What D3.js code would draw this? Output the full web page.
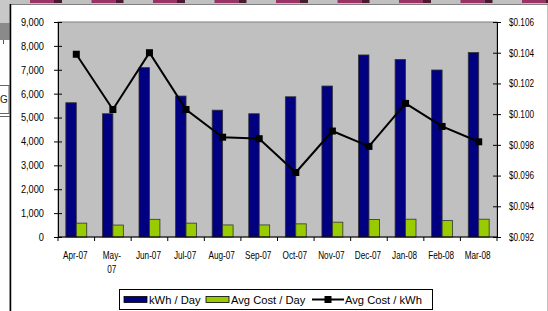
<!DOCTYPE html>
<html>
<head>
<meta charset="utf-8">
<script src="https://cdn.jsdelivr.net/npm/d3@7"></script>
<style>
  body { margin: 0; background: #fff; }
  svg { display: block; font-family: Arial, "Liberation Sans", sans-serif; }
</style>
</head>
<body>
<div id="chart"></div>
<script>
var months = ["Apr-07", "May-07", "Jun-07", "Jul-07", "Aug-07", "Sep-07", "Oct-07", "Nov-07", "Dec-07", "Jan-08", "Feb-08", "Mar-08"];
var kwhPerDay = [5620, 5160, 7090, 5900, 5310, 5160, 5870, 6320, 7620, 7430, 6990, 7720];
var costPerDay = [580, 500, 740, 580, 505, 505, 550, 620, 735, 745, 690, 745];
var costPerKwh = [0.1039, 0.1003, 0.1040, 0.1003, 0.0985, 0.0984, 0.0962, 0.0989, 0.0979, 0.1007, 0.0992, 0.0982];
var leftTicks = [0, 1000, 2000, 3000, 4000, 5000, 6000, 7000, 8000, 9000];
var rightTicks = [0.092, 0.094, 0.096, 0.098, 0.100, 0.102, 0.104, 0.106];
var seriesNames = ["kWh / Day", "Avg Cost / Day", "Avg Cost / kWh"];

var W = 548, H = 311;
var svg = d3.select("#chart").append("svg").attr("width", W).attr("height", H);

// screenshot leftovers around the chart object
svg.append("rect").attr("x", 0).attr("y", 0).attr("width", W).attr("height", 5).attr("fill", "#c0c0c0");
d3.range(0, 9).forEach(function(k) {
  var x0 = 30 + k * 61.5;
  svg.append("rect").attr("x", x0).attr("y", 0).attr("width", 24).attr("height", 3).attr("fill", "#993366");
  svg.append("rect").attr("x", x0 + 24).attr("y", 0).attr("width", 8).attr("height", 3).attr("fill", "#4a1a30");
});
svg.append("rect").attr("x", 0).attr("y", 0).attr("width", 10).attr("height", 23).attr("fill", "#c8c8c8");
svg.append("rect").attr("x", 0).attr("y", 23).attr("width", 10).attr("height", 17).attr("fill", "#8a8a8a");
svg.append("line").attr("x1", 3.5).attr("x2", 3.5).attr("y1", 40).attr("y2", 44).attr("stroke", "#555");
svg.append("rect").attr("x", -2).attr("y", 85.5).attr("width", 11).attr("height", 28).attr("fill", "#fff").attr("stroke", "#666");
svg.append("text").attr("x", 0).attr("y", 103).attr("font-size", 10).attr("fill", "#222").text("G");
svg.append("line").attr("x1", 0).attr("x2", 10).attr("y1", 116.5).attr("y2", 116.5).attr("stroke", "#666");

// chart object
svg.append("rect").attr("x", 10).attr("y", 4.5).attr("width", W - 10).attr("height", H - 4)
  .attr("fill", "#fff").attr("stroke", "#808080");
svg.append("line").attr("x1", 10.5).attr("x2", 10.5).attr("y1", 4).attr("y2", H).attr("stroke", "#000").attr("stroke-width", 1.5);

var plot = { left: 58, right: 497, top: 22, bottom: 237 };

var x = d3.scaleBand().domain(months).range([plot.left, plot.right]).paddingInner(0).paddingOuter(0);
var bw = x.bandwidth() / 3.5;
var yL = d3.scaleLinear().domain([0, 9000]).range([plot.bottom, plot.top]);
var yR = d3.scaleLinear().domain([0.092, 0.106]).range([plot.bottom, plot.top]);

svg.append("rect").attr("x", plot.left).attr("y", plot.top)
  .attr("width", plot.right - plot.left).attr("height", plot.bottom - plot.top)
  .attr("fill", "#c0c0c0").attr("stroke", "#808080");

// bars
svg.append("g").selectAll("rect").data(kwhPerDay).enter().append("rect")
  .attr("x", function(d, i) { return x(months[i]) + x.bandwidth() / 2 - bw; })
  .attr("y", function(d) { return yL(d); })
  .attr("width", bw)
  .attr("height", function(d) { return yL(0) - yL(d); })
  .attr("fill", "#000080").attr("stroke", "#333").attr("stroke-width", 0.8);

svg.append("g").selectAll("rect").data(costPerDay).enter().append("rect")
  .attr("x", function(d, i) { return x(months[i]) + x.bandwidth() / 2; })
  .attr("y", function(d) { return yL(d); })
  .attr("width", bw)
  .attr("height", function(d) { return yL(0) - yL(d); })
  .attr("fill", "#99cc00").attr("stroke", "#333").attr("stroke-width", 0.8);

// line
var cx = function(d, i) { return x(months[i]) + x.bandwidth() / 2; };
svg.append("path").datum(costPerKwh)
  .attr("fill", "none").attr("stroke", "#000").attr("stroke-width", 2)
  .attr("d", d3.line().x(cx).y(function(d) { return yR(d); }));
svg.append("g").selectAll("rect").data(costPerKwh).enter().append("rect")
  .attr("x", function(d, i) { return cx(d, i) - 3.5; })
  .attr("y", function(d) { return yR(d) - 3.5; })
  .attr("width", 7).attr("height", 7).attr("fill", "#000");

// axes
var axL = svg.append("g").attr("transform", "translate(" + plot.left + ",0)")
  .call(d3.axisLeft(yL).tickValues(leftTicks).tickSize(4).tickSizeOuter(0).tickFormat(d3.format(",")));
var axR = svg.append("g").attr("transform", "translate(" + plot.right + ",0)")
  .call(d3.axisRight(yR).tickValues(rightTicks).tickSize(4).tickSizeOuter(0).tickFormat(d3.format("$.3f")));
[axL, axR].forEach(function(ax) {
  ax.select(".domain").attr("stroke", "#000");
  ax.selectAll(".tick line").attr("stroke", "#000").attr("x1", -4).attr("x2", 4);
  ax.selectAll("text").attr("font-size", 10.5).attr("fill", "#000").attr("font-family", "Arial, 'Liberation Sans', sans-serif");
});
axL.selectAll("text").attr("x", 0).attr("transform", "translate(-14,0) scale(0.88,1)");
axR.selectAll("text").attr("x", 0).attr("transform", "translate(12,0) scale(0.78,1)");

var axB = svg.append("g").attr("transform", "translate(0," + plot.bottom + ")");
axB.append("line").attr("x1", plot.left).attr("x2", plot.right).attr("stroke", "#000");
axB.selectAll("line.tk").data(d3.range(months.length + 1)).enter().append("line")
  .attr("class", "tk")
  .attr("x1", function(k) { return plot.left + k * x.bandwidth(); })
  .attr("x2", function(k) { return plot.left + k * x.bandwidth(); })
  .attr("y1", 0).attr("y2", 4).attr("stroke", "#000");
axB.selectAll("text").data(months).enter().append("text")
  .attr("transform", function(d) { return "translate(" + (x(d) + x.bandwidth() / 2 - 1) + ",21.5) scale(0.78,1)"; })
  .attr("text-anchor", "middle").attr("font-size", 10.5).attr("fill", "#000")
  .each(function(d) {
    var t = d3.select(this);
    if (d === "May-07") {
      t.append("tspan").attr("x", 0).attr("dy", 0).text("May-");
      t.append("tspan").attr("x", 0).attr("dy", 15).text("07");
    } else {
      t.text(d);
    }
  });

// legend
var lg = svg.append("g");
lg.append("rect").attr("x", 119.5).attr("y", 289.5).attr("width", 313).attr("height", 20)
  .attr("fill", "#fff").attr("stroke", "#000");
var items = [
  { x: 124, type: "bar", color: "#000080", tx: 149 },
  { x: 206, type: "bar", color: "#99cc00", tx: 231 },
  { x: 312, type: "line", color: "#000", tx: 345 }
];
items.forEach(function(it, i) {
  if (it.type === "bar") {
    lg.append("rect").attr("x", it.x).attr("y", 296.5).attr("width", 23).attr("height", 6)
      .attr("fill", it.color).attr("stroke", "#000").attr("stroke-width", 0.8);
  } else {
    lg.append("line").attr("x1", it.x).attr("x2", it.x + 32).attr("y1", 299.5).attr("y2", 299.5)
      .attr("stroke", "#000").attr("stroke-width", 2);
    lg.append("rect").attr("x", it.x + 12.5).attr("y", 296).attr("width", 7).attr("height", 7).attr("fill", "#000");
  }
  lg.append("text").attr("x", it.tx).attr("y", 303.5)
    .attr("font-size", 11.2).attr("fill", "#000")
    .text(seriesNames[i]);
});
</script>
</body>
</html>
